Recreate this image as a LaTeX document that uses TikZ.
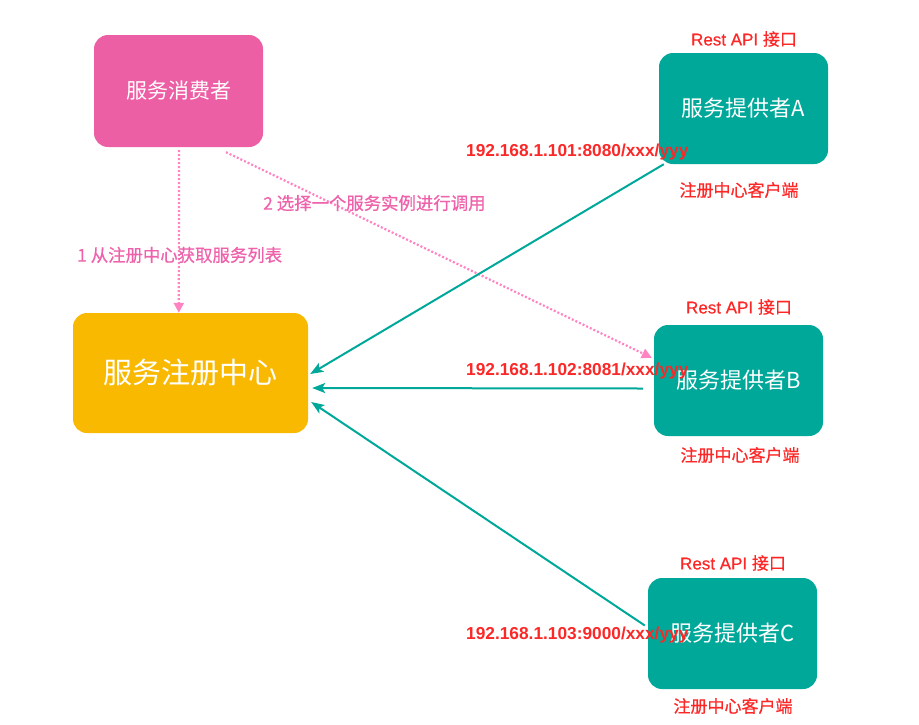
\documentclass[tikz,border=0pt]{standalone}
\usepackage{fontspec}
\setmainfont{Liberation Sans}
\newfontfamily\cjk{Noto Sans CJK SC}
\newfontfamily\cjkmed{Noto Sans CJK SC}[FakeBold=0.7]
\newfontfamily\latmed{Liberation Sans}[FakeBold=0.6]
\usetikzlibrary{arrows.meta,calc}
\definecolor{pinkbox}{RGB}{237,95,165}
\definecolor{pinktext}{RGB}{238,98,172}
\definecolor{pinkline}{RGB}{255,130,195}
\definecolor{yellowbox}{RGB}{249,185,0}
\definecolor{tealbox}{RGB}{0,168,154}
\definecolor{redtext}{RGB}{252,40,40}
\begin{document}
\begin{tikzpicture}[x=1pt,y=-1pt,
  box/.style={rounded corners=14pt, draw=none, text=white, inner sep=0pt,
    minimum width=169pt, minimum height=111pt},
  consumerbox/.style={box, fill=pinkbox, minimum height=112pt, font=\cjk\fontsize{21}{24}\selectfont},
  registrybox/.style={box, fill=yellowbox, minimum width=235pt, minimum height=120pt, font=\cjk\fontsize{29}{32}\selectfont},
  providerbox/.style={box, fill=tealbox, font=\cjk\fontsize{22}{26}\selectfont},
  redlabel/.style={text=redtext, inner sep=0pt, font=\latmed\fontsize{17}{20}\selectfont},
  clientlabel/.style={text=redtext, inner sep=0pt, font=\cjkmed\fontsize{17}{20}\selectfont},
  iplabel/.style={text=redtext, inner sep=0pt, anchor=west, font=\bfseries\fontsize{17.3}{20}\selectfont},
  pinklabel/.style={text=pinktext, inner sep=0pt, anchor=west, font=\cjkmed\fontsize{17.4}{20}\selectfont},
  callline/.style={draw=pinkline, line width=2.2pt, dash pattern=on 2pt off 2pt,
    -{Triangle[length=10pt,width=10pt,fill=pinkline]}},
  regline/.style={draw=tealbox, line width=2pt, -{Stealth[length=13pt,width=10pt,inset=3pt]}}
]
\useasboundingbox (0,0) rectangle (919,724);

% boxes
\node[consumerbox] (P) at (178.5,91) {服务消费者};
\node[registrybox] (R) at (190.5,373) {服务注册中心};
\node[providerbox] (A) at (743.5,108.5) {服务提供者A};
\node[providerbox] (B) at (738.5,380.5) {服务提供者B};
\node[providerbox] (C) at (732.5,633.5) {服务提供者C};

% labels around providers
\node[redlabel] (restA) at (744,39) {Rest API {\cjkmed 接口}};
\node[redlabel] (restB) at (739,307) {Rest API {\cjkmed 接口}};
\node[redlabel] (restC) at (733,563) {Rest API {\cjkmed 接口}};
\node[clientlabel] (cliA) at (739,190) {注册中心客户端};
\node[clientlabel] (cliB) at (740,455) {注册中心客户端};
\node[clientlabel] (cliC) at (733,706) {注册中心客户端};

% consumer calls
\draw[callline] ($(P.south)+(0.5,3)$) -- ($(R.north west)+(106,0)$);
\draw[callline] ($(P.south)+(47.5,5)$) -- ($(B.north west)+(-2,33)$);
\node[pinklabel] (l1) at (77,255) {1 从注册中心获取服务列表};
\node[pinklabel] (l2) at (263,203) {2 选择一个服务实例进行调用};

% registrations
\draw[regline] ($(A.south west)+(5,0)$) -- ($(R.east)+(2,1)$);
\draw[regline] ($(B.west)+(-11,8)$) -- ($(R.east)+(4,15)$);
\draw[regline] ($(C.west)+(-3,-8)$) -- ($(R.east)+(3,29)$);

% addresses
\node[iplabel] (ipA) at (466,152) {192.168.1.101:8080/xxx/yyy};
\node[iplabel] (ipB) at (466,371) {192.168.1.102:8081/xxx/yyy};
\node[iplabel] (ipC) at (466,635) {192.168.1.103:9000/xxx/yyy};
\end{tikzpicture}
\end{document}
